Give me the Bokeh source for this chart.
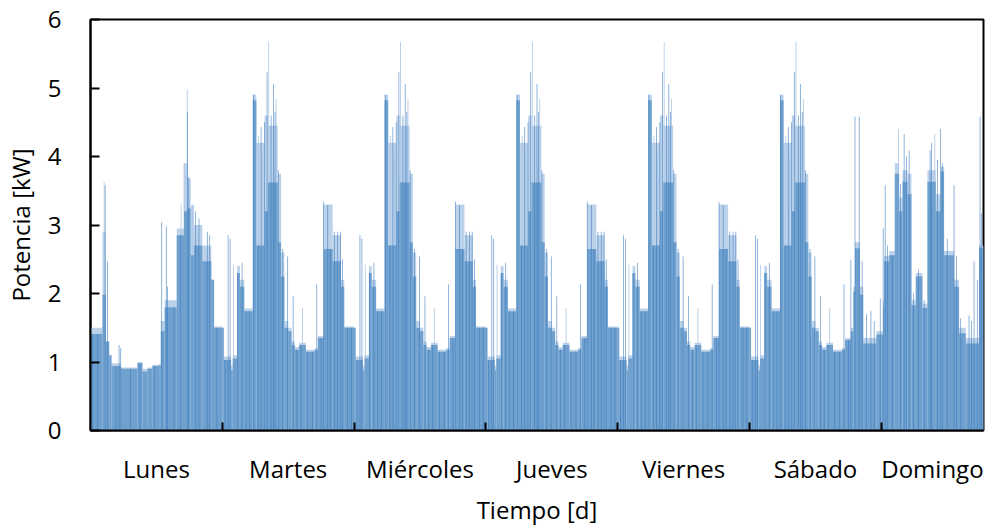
from bokeh.plotting import figure
from bokeh.models import Range1d, FixedTicker, ColumnDataSource
from bokeh.embed import file_html
from bokeh.resources import INLINE

# ---------------- datos ----------------
dias = ["Lunes", "Martes", "Miércoles", "Jueves", "Viernes", "Sábado", "Domingo"]
centros_dias = [12, 36, 60, 84, 108, 132, 153.3]     # h, posición de la etiqueta
limites_dias = [24, 48, 72, 96, 120, 144]             # h, marcas de día
fin_datos = 162.6                                     # h
yticks = [0, 1, 2, 3, 4, 5, 6]

# tramos: (inicio h, fin h, potencia kW, potencia máx. (claro) kW)
lunes = [
    (0.0, 2.18, 1.41, 1.50), (2.18, 2.79, 1.98, 2.90), (2.79, 3.40, 1.30, 1.30),
    (3.40, 3.82, 1.10, 1.10), (3.82, 5.50, 0.94, 0.98), (5.50, 8.55, 0.90, 0.92),
    (8.55, 9.45, 0.98, 1.00), (9.45, 10.36, 0.86, 0.90), (10.36, 11.27, 0.90, 0.92),
    (11.27, 12.50, 0.94, 0.96), (12.50, 12.80, 0.96, 0.96), (12.80, 13.50, 1.45, 1.60),
    (13.50, 15.70, 1.80, 1.90), (15.70, 17.03, 2.85, 2.95), (17.03, 17.64, 3.20, 3.90),
    (17.64, 18.24, 3.24, 3.68), (18.24, 18.85, 2.56, 3.29), (18.85, 20.36, 2.70, 3.00),
    (20.36, 22.00, 2.47, 2.70), (22.00, 22.50, 2.20, 2.20), (22.50, 24.00, 1.50, 1.52),
]
laborable_dia = [
    (0.0, 0.27, 1.50, 1.50), (0.27, 1.60, 1.03, 1.08), (1.60, 1.90, 0.88, 0.95),
    (1.90, 2.70, 1.05, 1.10), (2.70, 3.20, 2.30, 2.40), (3.20, 4.00, 2.10, 2.20),
    (4.00, 5.55, 1.74, 1.78), (5.55, 6.20, 4.82, 4.90), (6.20, 7.70, 2.70, 4.20),
    (7.70, 8.30, 3.20, 4.60), (8.30, 10.10, 3.62, 4.45), (10.10, 10.70, 2.75, 3.75),
    (10.70, 11.30, 2.25, 2.60), (11.30, 12.00, 1.50, 1.60), (12.00, 12.60, 1.45, 1.50),
    (12.60, 13.20, 1.25, 1.30), (13.20, 14.00, 1.18, 1.22), (14.00, 15.20, 1.25, 1.28),
    (15.20, 16.80, 1.15, 1.18), (16.80, 17.40, 1.18, 1.20),
]
laborable_noche = [
    (17.40, 18.45, 1.35, 1.38), (18.45, 20.10, 2.65, 3.30), (20.10, 21.60, 2.47, 2.85),
    (21.60, 22.20, 2.10, 2.20), (22.20, 24.00, 1.50, 1.52),
]
sabado_noche = [
    (17.40, 18.45, 1.32, 1.35), (18.45, 18.90, 1.45, 1.50), (18.90, 19.20, 2.03, 2.10),
    (19.20, 20.10, 2.66, 2.75), (20.10, 20.70, 1.98, 2.10), (20.70, 23.10, 1.27, 1.35),
    (23.10, 24.00, 1.40, 1.45),
]
domingo = [
    (0.0, 0.33, 1.40, 1.45), (0.33, 0.50, 1.83, 1.90), (0.50, 1.42, 2.47, 2.55),
    (1.42, 2.45, 2.56, 2.62), (2.45, 3.24, 3.75, 3.90), (3.24, 3.85, 3.20, 3.40),
    (3.85, 4.76, 3.63, 3.80), (4.76, 5.48, 3.45, 3.75), (5.48, 6.27, 1.83, 1.90),
    (6.27, 7.48, 2.25, 2.30), (7.48, 8.39, 1.79, 1.85), (8.39, 9.91, 3.63, 3.80),
    (9.91, 10.82, 3.20, 3.45), (10.82, 11.42, 3.78, 3.85), (11.42, 13.24, 2.56, 2.62),
    (13.24, 14.15, 2.10, 2.20), (14.15, 15.36, 1.42, 1.50), (15.36, 17.79, 1.27, 1.35),
    (17.79, 18.60, 2.66, 2.70),
]

# picos y líneas puntuales: (hora h, kW)
picos_lunes = [(0.4, 1.41), (1.3, 1.41), (2.67, 3.58), (3.09, 2.47), (4.6, 0.94), (5.2, 1.25),
               (5.5, 1.2), (7.3, 0.9), (9.0, 0.98), (11.6, 0.94), (12.97, 3.04), (13.8, 2.98),
               (14.0, 2.1), (15.2, 1.8), (16.4, 2.85), (17.64, 4.65), (17.9, 3.7),
               (19.15, 3.2), (19.75, 3.1), (21.27, 2.9), (21.7, 2.85), (23.0, 1.5)]
claros_lunes = [(2.48, 3.63), (16.5, 3.3), (17.03, 3.9), (17.6, 4.98), (18.6, 3.3)]
picos_laborable = [(0.5, 1.03), (1.06, 2.85), (1.42, 2.8), (2.8, 2.3), (3.6, 2.45),
                   (4.3, 1.74), (5.0, 1.74), (5.67, 4.9), (6.5, 2.7), (7.06, 4.43),
                   (7.67, 4.5), (8.15, 5.23), (8.88, 4.6), (9.3, 5.06), (9.6, 4.65),
                   (10.2, 3.8), (11.0, 2.65), (11.9, 2.54), (12.9, 1.96), (13.6, 1.18),
                   (14.3, 1.25), (15.5, 1.15), (16.4, 1.15), (17.2, 2.13)]
claros_laborable = [(2.03, 2.42), (6.6, 4.3), (7.3, 4.0), (8.45, 5.67), (9.8, 4.84), (14.6, 1.79)]
picos_laborable_noche = [(18.0, 1.35), (18.45, 3.34), (19.2, 3.29), (19.7, 2.65),
                         (20.4, 2.9), (21.0, 2.9), (21.5, 2.9), (21.9, 2.5), (22.8, 1.5),
                         (23.5, 1.5)]
picos_sabado_noche = [(18.0, 1.32), (18.45, 2.49), (19.2, 4.58), (19.97, 4.58), (20.5, 2.47),
                      (21.3, 1.7), (22.1, 1.75), (22.7, 1.6), (23.8, 1.93)]
picos_domingo = [(0.33, 2.95), (0.7, 3.58), (1.1, 2.7), (2.0, 2.56), (3.5, 3.6), (4.15, 4.33),
                 (4.6, 4.0), (5.06, 4.09), (5.85, 2.0), (6.75, 2.35), (7.8, 1.9), (8.88, 4.09),
                 (9.12, 4.2), (10.2, 3.95), (10.8, 4.4), (11.1, 3.9), (12.0, 2.8),
                 (13.24, 3.58), (13.7, 2.55), (14.45, 1.64), (15.97, 1.68), (16.4, 1.6),
                 (16.88, 2.47), (17.48, 2.2), (17.97, 4.58), (18.2, 3.17)]
claros_domingo = [(3.12, 4.4), (9.73, 4.33)]

# composición de la semana
semana_tramos = [lunes, laborable_dia + laborable_noche, laborable_dia + laborable_noche,
                 laborable_dia + laborable_noche, laborable_dia + laborable_noche,
                 laborable_dia + sabado_noche, domingo]
semana_picos = [picos_lunes, picos_laborable + picos_laborable_noche,
                picos_laborable + picos_laborable_noche, picos_laborable + picos_laborable_noche,
                picos_laborable + picos_laborable_noche, picos_laborable + picos_sabado_noche,
                picos_domingo]
semana_claros = [claros_lunes, claros_laborable, claros_laborable, claros_laborable,
                 claros_laborable, claros_laborable, claros_domingo]

izq, der, kw, kw_max = [], [], [], []
px, pv, cx, cv = [], [], [], []
for d in range(7):
    off = 24 * d
    for a, b, v, m in semana_tramos[d]:
        izq.append(off + a); der.append(off + b); kw.append(v); kw_max.append(m)
    for h, v in semana_picos[d]:
        px.append(off + h); pv.append(v)
    for h, v in semana_claros[d]:
        cx.append(off + h); cv.append(v)

src = ColumnDataSource(dict(left=izq, right=der, top=kw, tmax=kw_max))
src_p = ColumnDataSource(dict(x=px, top=pv))
src_c = ColumnDataSource(dict(x=cx, top=cv))

# ---------------- figura ----------------
FONT = "Open Sans"
p = figure(width=992, height=529, x_range=Range1d(0, fin_datos), y_range=Range1d(0, 6),
           output_backend="svg", toolbar_location=None,
           min_border_left=89, min_border_right=9, min_border_top=19, min_border_bottom=99)
p.background_fill_color = "white"
p.border_fill_color = "white"
p.xgrid.visible = False
p.ygrid.visible = False
p.outline_line_color = "black"
p.outline_line_width = 2
p.outline_line_alpha = 1

p.quad(left="left", right="right", bottom=0, top="tmax", source=src,
       fill_color="#bcd2ea", line_color=None)
p.vbar(x="x", width=0.14, bottom=0, top="top", source=src_c,
       fill_color="#a9c5e4", line_color=None)
p.quad(left="left", right="right", bottom=0, top="top", source=src,
       fill_color="#6fa0ce", line_color=None)
p.vbar(x="x", width=0.14, bottom=0, top="top", source=src_p,
       fill_color="#3f7dbf", fill_alpha=0.75, line_color=None)

xa = p.xaxis[0]
xa.ticker = FixedTicker(ticks=centros_dias, minor_ticks=limites_dias)
xa.major_label_overrides = {c: n for c, n in zip(centros_dias, dias)}
xa.major_tick_in = 0
xa.major_tick_out = 0
xa.minor_tick_in = 8
xa.minor_tick_out = 0
xa.minor_tick_line_color = "black"
xa.minor_tick_line_width = 2
xa.axis_line_color = "black"
xa.axis_line_width = 2
xa.major_label_text_font = FONT
xa.major_label_text_font_size = "24px"
xa.major_label_text_color = "black"
xa.major_label_standoff = 21
xa.axis_label = "Tiempo [d]"
xa.axis_label_text_font = FONT
xa.axis_label_text_font_size = "24px"
xa.axis_label_text_font_style = "normal"
xa.axis_label_text_color = "black"
xa.axis_label_standoff = 5

ya = p.yaxis[0]
ya.ticker = FixedTicker(ticks=yticks)
ya.major_tick_in = 9
ya.major_tick_out = 0
ya.major_tick_line_color = "black"
ya.major_tick_line_width = 2
ya.minor_tick_line_color = None
ya.axis_line_color = "black"
ya.axis_line_width = 2
ya.major_label_text_font = FONT
ya.major_label_text_font_size = "24px"
ya.major_label_text_color = "black"
ya.major_label_standoff = 29
ya.axis_label = "Potencia [kW]"
ya.axis_label_text_font = FONT
ya.axis_label_text_font_size = "24px"
ya.axis_label_text_font_style = "normal"
ya.axis_label_text_color = "black"
ya.axis_label_standoff = 8

open("out.html", "w").write(file_html(p, INLINE))
